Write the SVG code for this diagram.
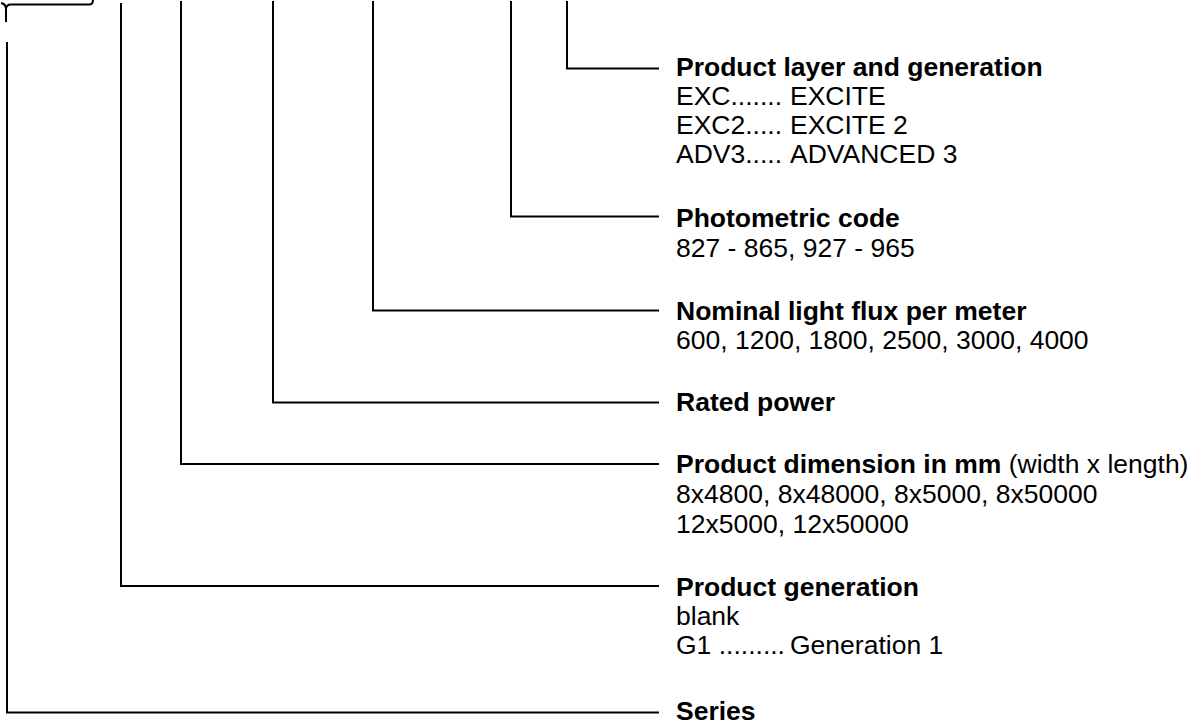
<svg xmlns="http://www.w3.org/2000/svg" width="1204" height="724" viewBox="0 0 1204 724">
<style>
.ln{fill:none;stroke:#000;stroke-width:2;stroke-linejoin:miter;stroke-linecap:butt}
text{font-family:"Liberation Sans",Arial,sans-serif;font-size:26.5px;fill:#000}
.b{font-weight:bold}
</style>
<rect width="1204" height="724" fill="#fff"/>
<g id="connectors">
<path class="ln" d="M1 3 Q6 4 6 9 L6 22 M6 9 Q6 4.5 11 4.5 L89 4.5 Q93 4.5 93 0"/>
<path class="ln" d="M567 1 V68.5 H659"/>
<path class="ln" d="M511 1 V216.5 H659"/>
<path class="ln" d="M373 1 V310.5 H659"/>
<path class="ln" d="M273 1 V402.5 H659"/>
<path class="ln" d="M181 1 V464 H659"/>
<path class="ln" d="M121 3 V586 H659"/>
<path class="ln" d="M7 42 V712.5 H659"/>
</g>
<g id="product-layer">
<text x="676" y="76" class="b">Product layer and generation</text>
<text x="676" y="105">EXC.......</text><text x="790" y="105">EXCITE</text>
<text x="676" y="134">EXC2.....</text><text x="790" y="134">EXCITE 2</text>
<text x="676" y="163">ADV3.....</text><text x="790" y="163">ADVANCED 3</text>
</g>
<g id="photometric">
<text x="676" y="227" class="b">Photometric code</text>
<text x="676" y="257">827 - 865, 927 - 965</text>
</g>
<g id="nominal">
<text x="676" y="320" class="b">Nominal light flux per meter</text>
<text x="676" y="349">600, 1200, 1800, 2500, 3000, 4000</text>
</g>
<g id="rated">
<text x="676" y="411" class="b">Rated power</text>
</g>
<g id="dimension">
<text x="676" y="473"><tspan class="b">Product dimension in mm</tspan> (width x length)</text>
<text x="676" y="503">8x4800, 8x48000, 8x5000, 8x50000</text>
<text x="676" y="533">12x5000, 12x50000</text>
</g>
<g id="generation">
<text x="676" y="596" class="b">Product generation</text>
<text x="676" y="625">blank</text>
<text x="676" y="654">G1 .........</text><text x="790" y="654">Generation 1</text>
</g>
<g id="series">
<text x="676" y="720" class="b">Series</text>
</g>
</svg>
